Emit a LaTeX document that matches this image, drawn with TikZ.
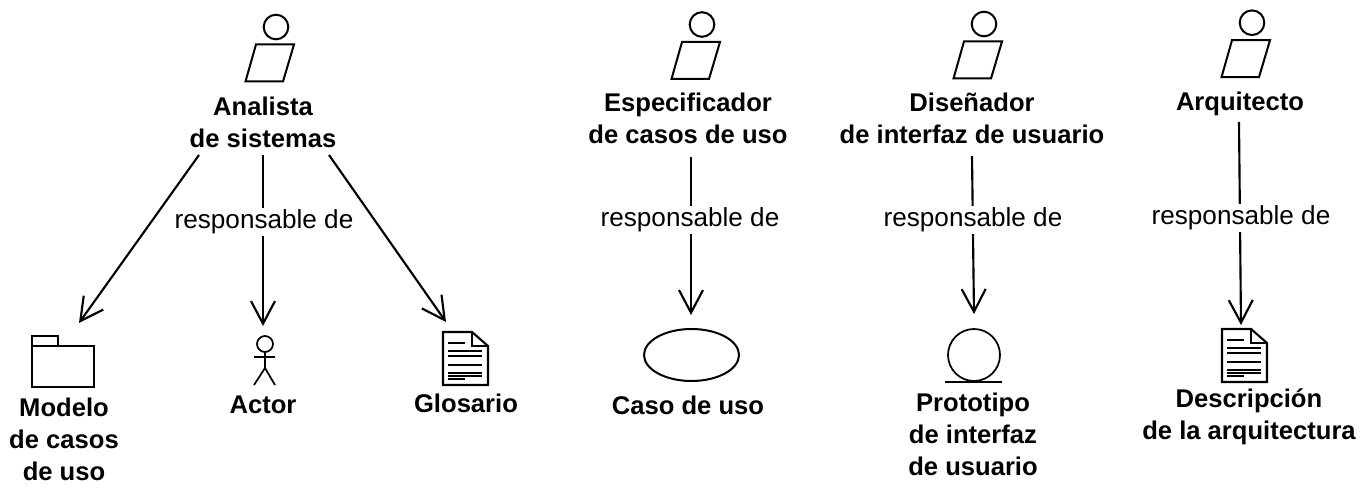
\documentclass[tikz,border=0pt]{standalone}
\usepackage{fontspec}
\setmainfont{Liberation Sans}
\usetikzlibrary{arrows.meta}
\tikzset{
  x=0.75pt,y=-0.75pt,
  ico/.style={line width=1.5pt,draw=black,line join=miter},
  name lab/.style={font=\fontsize{19.2pt}{24pt}\selectfont\bfseries,align=center,inner sep=0pt,text=black},
  resp/.style={font=\fontsize{19.6pt}{22pt}\selectfont,fill=white,inner sep=1.5pt,text=black},
  conn/.style={line width=1.6pt,draw=black,-{Straight Barb[length=17pt,width=18pt,line width=1.6pt]}},
}
\newcommand{\worker}[2]{%
  \begin{scope}[shift={(#1,#2)}]
    \draw[ico] (0,0) circle (12.3);
    \draw[ico] (-20,17.5) -- (18,17.5) -- (7,54.5) -- (-30.5,54.5) -- cycle;
  \end{scope}}
\newcommand{\docicon}[2]{%
  \begin{scope}[shift={(#1,#2)}]
    \draw[ico,line width=1.6pt] (0,0) -- (29,0) -- (45,14) -- (45,53) -- (0,53) -- cycle;
    \draw[ico,line width=1.2pt] (29,0) -- (29,14) -- (45,14);
    \foreach \yy/\xa/\xb in {11/5/22,19/5/39,24/5/39,33/5/39,41/5/39,44/5/39,47/5/22}
      \draw[line width=1.1pt] (\xa,\yy) -- (\xb,\yy);
  \end{scope}}
\begin{document}
\begin{tikzpicture}
\useasboundingbox (0,0) rectangle (1370,491);
% workers
\worker{276}{27}\worker{702}{24.5}\worker{984}{24}\worker{1252}{22.7}
% worker labels
\node[name lab] (an) at (263,122.5) {Analista\\de sistemas};
\node[name lab] (es) at (688,118.5) {Especificador\\de casos de uso};
\node[name lab] (di) at (972,118.5) {Diseñador\\de interfaz de usuario};
\node[name lab] (ar) at (1240,104) {Arquitecto};
% targets: folder
\draw[ico] (32,346) -- (32,387) -- (94,387) -- (94,346) -- (32,346);
\draw[ico,line width=1.1pt] (32,346) -- (32,336) -- (58,336) -- (58,346);
\coordinate (fo) at (79,323);
% actor
\draw[ico,line width=1.3pt] (265,344) circle (8);
\draw[ico,line width=1.3pt] (265,352) -- (265,368) (254,357) -- (275,357) (254,385) -- (265,368) -- (275,385);
\coordinate (ac) at (263,326);
% glossary
\docicon{443}{332}
\coordinate (gl) at (446,322);
% use case
\draw[ico] (691.5,355) ellipse (47.5 and 26);
\coordinate (uc) at (691,315);
% prototype
\draw[ico,line width=1.3pt] (974,355) circle (26);
\draw[ico] (945,382) -- (1002,382);
\coordinate (pr) at (974,314);
% doc
\docicon{1222}{329}
\coordinate (de) at (1241,325);
% target labels
\node[name lab] at (64,439) {Modelo\\de casos\\de uso};
\node[name lab] at (263,405) {Actor};
\node[name lab] at (466,403) {Glosario};
\node[name lab] at (688,405) {Caso de uso};
\node[name lab] at (973,434) {Prototipo\\de interfaz\\de usuario};
\node[name lab] at (1249,416.5) {Descripción\\de la arquitectura};
% connectors
\coordinate (a1) at (199,155);
\coordinate (a2) at (263,155);
\coordinate (a3) at (329,155);
\draw[conn] (a1) -- (fo);
\draw[conn] (a2) -- (ac);
\draw[conn] (a3) -- (gl);
\draw[conn] (691,157) -- (uc);
\draw[conn] (972,156) -- (pr);
\draw[conn] (1239,122) -- (de);
% responsibility labels
\node[resp] at (264,222) {responsable de};
\node[resp] at (690,220) {responsable de};
\node[resp] at (973,220) {responsable de};
\node[resp] at (1241,218) {responsable de};
\end{tikzpicture}
\end{document}
